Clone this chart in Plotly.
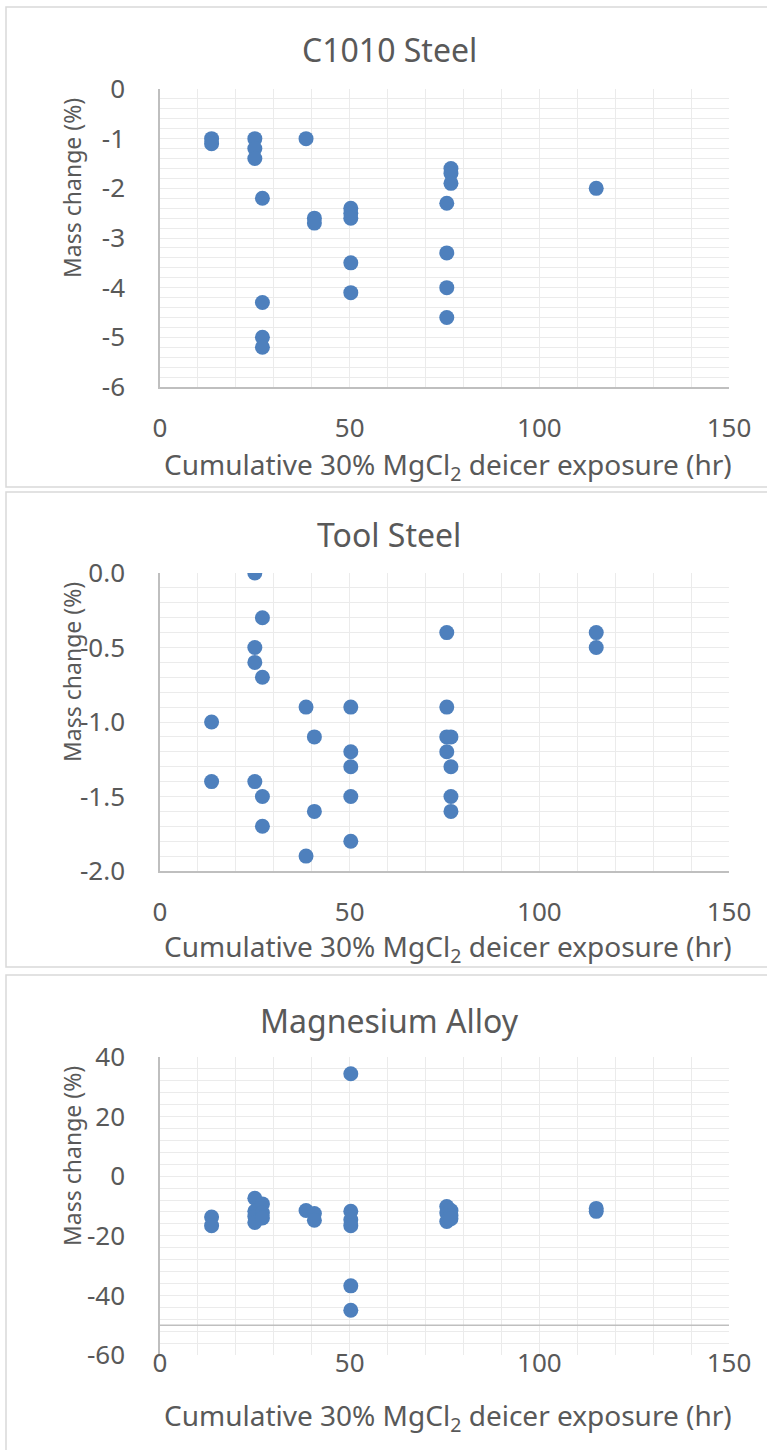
import plotly.graph_objects as go

# ---- data ----
# C1010 Steel
c1010_x = [13.6, 13.6, 25, 25, 25, 27, 27, 27, 27, 38.5, 40.7, 40.7,
           50.3, 50.3, 50.3, 50.3, 50.3, 75.6, 75.6, 75.6, 75.6, 76.7, 76.7, 76.7, 115]
c1010_y = [-1.0, -1.1, -1.0, -1.2, -1.4, -2.2, -4.3, -5.0, -5.2, -1.0, -2.6, -2.7,
           -2.4, -2.5, -2.6, -3.5, -4.1, -2.3, -3.3, -4.0, -4.6, -1.6, -1.7, -1.9, -2.0]

# Tool Steel
tool_x = [13.6, 13.6, 25, 25, 25, 25, 27, 27, 27, 27, 38.5, 38.5, 40.7, 40.7,
          50.3, 50.3, 50.3, 50.3, 50.3, 75.6, 75.6, 75.6, 75.6, 76.7, 76.7, 76.7, 76.7, 115, 115]
tool_y = [-1.0, -1.4, 0.0, -0.5, -0.6, -1.4, -0.3, -0.7, -1.5, -1.7, -0.9, -1.9, -1.1, -1.6,
          -0.9, -1.2, -1.3, -1.5, -1.8, -0.4, -0.9, -1.1, -1.2, -1.1, -1.3, -1.5, -1.6, -0.4, -0.5]

# Magnesium Alloy
mg_x = [13.6, 13.6, 25, 25, 25, 25, 27, 27, 27, 38.5, 40.7, 40.7,
        50.3, 50.3, 50.3, 50.3, 50.3, 50.3, 75.6, 75.6, 75.6, 76.7, 76.7, 76.7, 115, 115]
mg_y = [-13.7, -16.6, -7.4, -11.8, -13.5, -15.5, -9.3, -12.3, -14.0, -11.5, -12.5, -14.8,
        34.4, -11.8, -14.6, -16.6, -36.8, -45.0, -10.2, -12.3, -15.2, -11.5, -13.2, -14.3, -10.8, -11.8]

# tick labels (Excel style hyphen minus)
x_ticks = [0, 50, 100, 150]
x_ticktext = ["0", "50", "100", "150"]
c1010_ticks = [0, -1, -2, -3, -4, -5, -6]
c1010_ticktext = ["0", "-1", "-2", "-3", "-4", "-5", "-6"]
tool_ticks = [0.0, -0.5, -1.0, -1.5, -2.0]
tool_ticktext = ["0.0", "-0.5", "-1.0", "-1.5", "-2.0"]
mg_ticks = [40, 20, 0, -20, -40, -60]
mg_ticktext = ["40", "20", "0", "-20", "-40", "-60"]

titles = ["C1010 Steel", "Tool Steel", "Magnesium Alloy"]
x_title = "Cumulative 30% MgCl<sub>2</sub> deicer exposure (hr)"
y_title = "Mass change (%)"

W, H = 767, 1450
FONT = "Noto Sans"
GREY = "#595959"
GRID = "#ebebeb"
AXIS = "#bfbfbf"
BLUE = "#4e80bd"

def px(x):
    return x / W

def py(y):
    return 1 - y / H

# plot areas in pixels (top, bottom), panel boxes, title / label rows
plot_rows = [(89, 387), (573, 871), (1057, 1355)]
panel_rows = [(7, 487), (492, 967), (975, 1470)]
title_y = [50, 535, 1020]
xtitle_y = [466, 948, 1417]
ytitle_y = [188, 672, 1156]
xlabel_standoff = [17, 17, -10]
yranges = [(-6, 0), (-2, 0), (-60, 40)]
yminor = [0.2, 0.1, 4]
yticks = [(c1010_ticks, c1010_ticktext), (tool_ticks, tool_ticktext), (mg_ticks, mg_ticktext)]

series = [(c1010_x, c1010_y), (tool_x, tool_y), (mg_x, mg_y)]

fig = go.Figure()
annotations = []
shapes = []
for i, (xs, ys) in enumerate(series):
    n = "" if i == 0 else str(i + 1)
    fig.add_trace(go.Scatter(x=xs, y=ys, mode="markers", xaxis="x" + n, yaxis="y" + n,
                             marker=dict(color=BLUE, size=15), showlegend=False))
    top, bot = plot_rows[i]
    tv, tt = yticks[i]
    fig.update_layout({
        "xaxis" + n: dict(domain=[px(160), px(729)], anchor="y" + n, range=[0, 150],
                          tickmode="array", tickvals=x_ticks, ticktext=x_ticktext,
                          showgrid=True, gridcolor=GRID, gridwidth=1,
                          minor=dict(tick0=0, dtick=10, showgrid=True, gridcolor=GRID, gridwidth=1),
                          showline=(i < 2), linecolor=AXIS, linewidth=1.5,
                          zeroline=False, ticks="", ticklabelstandoff=xlabel_standoff[i],
                          automargin=False, fixedrange=True,
                          tickfont=dict(family=FONT, size=26, color=GREY)),
        "yaxis" + n: dict(domain=[py(bot), py(top)], anchor="x" + n, range=list(yranges[i]),
                          tickmode="array", tickvals=tv, ticktext=tt,
                          showgrid=True, gridcolor=GRID, gridwidth=1,
                          minor=dict(tick0=0, dtick=yminor[i], showgrid=True, gridcolor=GRID, gridwidth=1),
                          showline=True, linecolor=AXIS, linewidth=1.5, zeroline=False,
                          ticks="", ticklabelstandoff=28, automargin=False, fixedrange=True,
                          tickfont=dict(family=FONT, size=26, color=GREY)),
    })
    # chart area border
    t, b = panel_rows[i]
    shapes.append(dict(type="rect", xref="paper", yref="paper", x0=px(6), x1=px(790),
                       y0=py(b), y1=py(t), line=dict(color="#d9d9d9", width=1.5),
                       fillcolor="rgba(0,0,0,0)", layer="below"))
    annotations.append(dict(text=titles[i], x=px(389), y=py(title_y[i]), xref="paper", yref="paper",
                            showarrow=False, xanchor="center", yanchor="middle",
                            font=dict(family=FONT, size=32, color=GREY)))
    annotations.append(dict(text=x_title, x=px(448), y=py(xtitle_y[i]), xref="paper", yref="paper",
                            showarrow=False, xanchor="center", yanchor="middle",
                            font=dict(family=FONT, size=28, color=GREY)))
    annotations.append(dict(text=y_title, x=px(72), y=py(ytitle_y[i]), xref="paper", yref="paper",
                            showarrow=False, xanchor="center", yanchor="middle", textangle=-90,
                            font=dict(family=FONT, size=23, color=GREY)))

# horizontal axis of the magnesium panel crosses at -50
shapes.append(dict(type="line", xref="x3", yref="y3", x0=0, x1=150, y0=-50, y1=-50,
                   line=dict(color=AXIS, width=1.5)))

fig.update_layout(width=W, height=H, margin=dict(l=0, r=0, t=0, b=0),
                  paper_bgcolor="white", plot_bgcolor="white",
                  annotations=annotations, shapes=shapes)

# drop the page's default body margin so the figure sits at the window's corner
fig.write_html("out.html", config={"displayModeBar": False},
               post_script="document.body.style.margin='0';")
